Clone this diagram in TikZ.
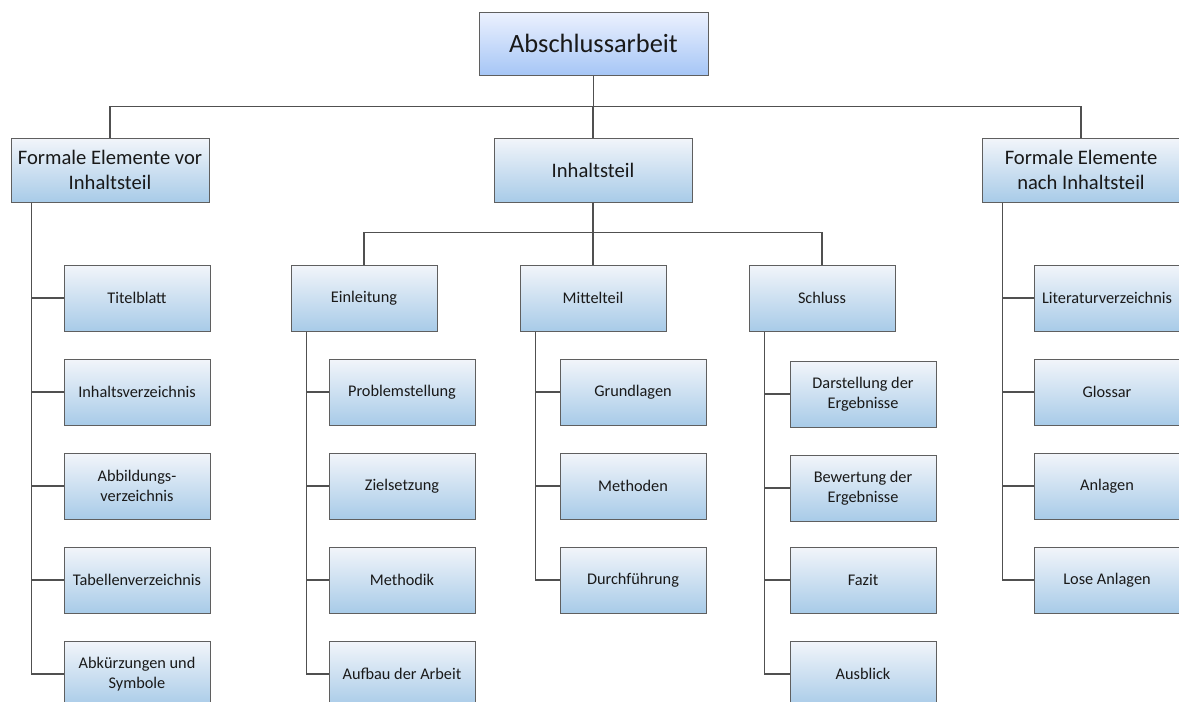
\documentclass[tikz,border=0pt]{standalone}
\usepackage{fontspec}
\setmainfont{Carlito}
\definecolor{linegray}{RGB}{80,80,80}
\definecolor{boxborder}{RGB}{95,95,95}
\definecolor{leaftop}{RGB}{242,245,250}
\definecolor{leafbottom}{RGB}{168,203,232}
\definecolor{roottop}{RGB}{236,241,254}
\definecolor{rootbottom}{RGB}{166,198,246}
\definecolor{textblack}{RGB}{25,25,25}

\begin{document}
\begin{tikzpicture}
[x=1pt,y=-1pt,%
  linedecorate/.style={-,line width=1.2pt,draw=linegray},%
  boxdecorate/.style={draw=boxborder,line width=1pt,shading=axis,top color=leaftop,bottom color=leafbottom,text=textblack,align=center,inner sep=2pt},%
  rootdecorate/.style={boxdecorate,top color=roottop,bottom color=rootbottom,minimum width=229,minimum height=63,font=\fontsize{26.4}{30}\selectfont},%
  partdecorate/.style={boxdecorate,minimum width=198,minimum height=64,font=\fontsize{20.6}{25.5}\selectfont},%
  leafdecorate/.style={boxdecorate,minimum width=146,minimum height=66,font=\fontsize{16.3}{20}\selectfont},%
  busedge/.style={linedecorate,to path={(\tikztostart.south) -- ++(0,#1) -| (\tikztotarget.north)}},%
  trunkedge/.style={linedecorate,to path={([xshift=#1]\tikztostart.south west) |- (\tikztotarget.west)}}]
\useasboundingbox (0,0) rectangle (1179,702);
\clip (0,0) rectangle (1179,702);
%% root and main parts
\node (arbeit) at (593.5,43.5) [rootdecorate] {Abschlussarbeit};
\foreach \nodename/\x/\y/\nodetext in {
vor/110/170/{Formale Elemente vor\\Inhaltsteil},
inhalt/593/170/{Inhaltsteil},
nach/1081/170/{Formale Elemente\\nach Inhaltsteil}}
{
  \node (\nodename) at (\x,\y) [partdecorate] {\nodetext};
}
%% chapters of the content part
\foreach \nodename/\x/\y/\nodetext in {
einl/364/298/{Einleitung}, mitte/593/298/{Mittelteil}, schluss/822/298/{Schluss}}
{
  \node (\nodename) at (\x,\y) [leafdecorate] {\nodetext};
}
%% leaves
%% columns: vor 137, einl 402, mitte 633, schluss 863, nach 1107
\foreach \nodename/\x/\y/\nodetext in {
titel/137/298/{Titelblatt}, ivz/137/392/{Inhaltsverzeichnis}, avz/137/486/{Abbildungs-\\verzeichnis},
tvz/137/580/{Tabellenverzeichnis}, abk/137/674/{Abkürzungen und\\Symbole},
probl/402/392/{Problemstellung}, ziel/402/486/{Zielsetzung}, methodik/402/580/{Methodik},
aufbau/402/674/{Aufbau der Arbeit},
grund/633/392/{Grundlagen}, methoden/633/486/{Methoden}, durch/633/580/{Durchführung},
darst/863/394/{Darstellung der\\Ergebnisse}, bew/863/488/{Bewertung der\\Ergebnisse},
fazit/863/580/{Fazit}, ausblick/863/674/{Ausblick},
lit/1107/298/{Literaturverzeichnis}, glossar/1107/392/{Glossar}, anl/1107/486/{Anlagen},
lose/1107/580/{Lose Anlagen}}
{
  \node (\nodename) at (\x,\y) [leafdecorate] {\nodetext};
}
%% edges or lines
\path
\foreach \startnode/\endnode in {arbeit/vor, arbeit/inhalt, arbeit/nach}
{
  (\startnode) edge[busedge=31] (\endnode)
}
\foreach \startnode/\endnode in {inhalt/einl, inhalt/mitte, inhalt/schluss}
{
  (\startnode) edge[busedge=30] (\endnode)
}
\foreach \startnode/\endnode in {vor/titel, vor/ivz, vor/avz, vor/tvz, vor/abk,
nach/lit, nach/glossar, nach/anl, nach/lose}
{
  (\startnode) edge[trunkedge=21] (\endnode)
}
\foreach \startnode/\endnode in {einl/probl, einl/ziel, einl/methodik, einl/aufbau,
mitte/grund, mitte/methoden, mitte/durch,
schluss/darst, schluss/bew, schluss/fazit, schluss/ausblick}
{
  (\startnode) edge[trunkedge=16] (\endnode)
};
\end{tikzpicture}
\end{document}
